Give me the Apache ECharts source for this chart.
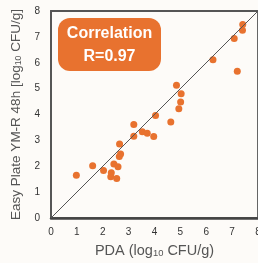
<!DOCTYPE html>
<html>
<head>
<meta charset="utf-8">
<script src="https://cdn.jsdelivr.net/npm/echarts@6/dist/echarts.min.js"></script>
<style>
  html, body { margin: 0; padding: 0; background: #fdfbf8; }
  #echart { width: 258px; height: 263px; }
</style>
</head>
<body>
<div id="echart"></div>
<script>
// PDA (x) vs Easy Plate YM-R 48h (y), log10 CFU/g
var pda = [0.98, 1.61, 2.03, 2.31, 2.33, 2.54, 2.43, 2.59, 2.65, 2.69, 2.64, 3.20, 3.20, 3.53,
           3.72, 3.97, 4.04, 4.63, 4.85, 5.03, 5.01, 4.94, 6.26, 7.08, 7.20, 7.40, 7.41];
var easyPlate = [1.65, 2.02, 1.84, 1.59, 1.75, 1.53, 2.09, 1.98, 2.86, 2.47, 2.38, 3.16, 3.61, 3.33,
                 3.28, 3.15, 3.96, 3.71, 5.13, 4.80, 4.48, 4.22, 6.12, 6.94, 5.67, 7.26, 7.48];
var identityLine = [[0, 0], [8, 8]];
var axisTicks = [0, 1, 2, 3, 4, 5, 6, 7, 8];
var corrLabel = 'Correlation';
var corrValue = 'R=0.97';

var points = pda.map(function (x, i) { return [x, easyPlate[i]]; });

var myChart = echarts.init(document.getElementById('echart'));

var tickLabel = {
    color: '#333',
    fontSize: 10,
    fontFamily: 'Liberation Sans Narrow, Liberation Sans, sans-serif'
};
function nameStyle(size) {
    return {
        color: '#555',
        fontSize: size,
        fontFamily: 'Liberation Sans, Arial, sans-serif',
        rich: {
            sub: { fontSize: size * 0.65, color: '#555', verticalAlign: 'bottom', padding: [5, 0, 0, 0] }
        }
    };
}

option = {
    backgroundColor: '#fdfbf8',
    animation: false,
    grid: {
        left: 51, top: 11, width: 207, height: 207,
        show: true, borderColor: '#555', borderWidth: 1.8,
        outerBoundsMode: 'none'
    },
    xAxis: {
        type: 'value', min: axisTicks[0], max: axisTicks[axisTicks.length - 1], interval: 1,
        splitLine: { show: false },
        axisTick: { show: false },
        axisLine: { show: true, lineStyle: { color: '#444', width: 2.5 } },
        axisLabel: Object.assign({ margin: 9, showMaxLabel: true }, tickLabel),
        name: 'PDA (log{sub|10} CFU/g)',
        nameLocation: 'middle',
        nameGap: 25,
        nameTextStyle: nameStyle(14.5)
    },
    yAxis: {
        type: 'value', min: axisTicks[0], max: axisTicks[axisTicks.length - 1], interval: 1,
        splitLine: { show: false },
        axisTick: { show: false },
        axisLine: { show: true, lineStyle: { color: '#555', width: 1.8 } },
        axisLabel: Object.assign({ margin: 11 }, tickLabel),
        name: 'Easy Plate YM-R 48h [log{sub|10} CFU/g]',
        nameLocation: 'middle',
        nameGap: 18,
        nameTextStyle: nameStyle(13.5)
    },
    graphic: [
        {
            type: 'rect',
            left: 58, top: 18,
            shape: { width: 103, height: 53, r: 12 },
            style: { fill: '#e8722f' },
            z: 10
        },
        {
            type: 'text',
            x: 109.5, y: 34,
            style: {
                text: corrLabel, fill: '#fff', fontSize: 16, fontWeight: 'bold',
                fontFamily: 'Liberation Sans, Arial, sans-serif',
                align: 'center', verticalAlign: 'middle'
            },
            z: 11
        },
        {
            type: 'text',
            x: 109.5, y: 57,
            style: {
                text: corrValue, fill: '#fff', fontSize: 16, fontWeight: 'bold',
                fontFamily: 'Liberation Sans, Arial, sans-serif',
                align: 'center', verticalAlign: 'middle'
            },
            z: 11
        }
    ],
    series: [
        {
            type: 'line',
            data: identityLine,
            symbol: 'none',
            silent: true,
            lineStyle: { color: '#555', width: 1 }
        },
        {
            type: 'scatter',
            data: points,
            symbolSize: 7,
            itemStyle: { color: '#e8722f', opacity: 1 }
        }
    ]
};

myChart.setOption(option);
</script>
</body>
</html>
